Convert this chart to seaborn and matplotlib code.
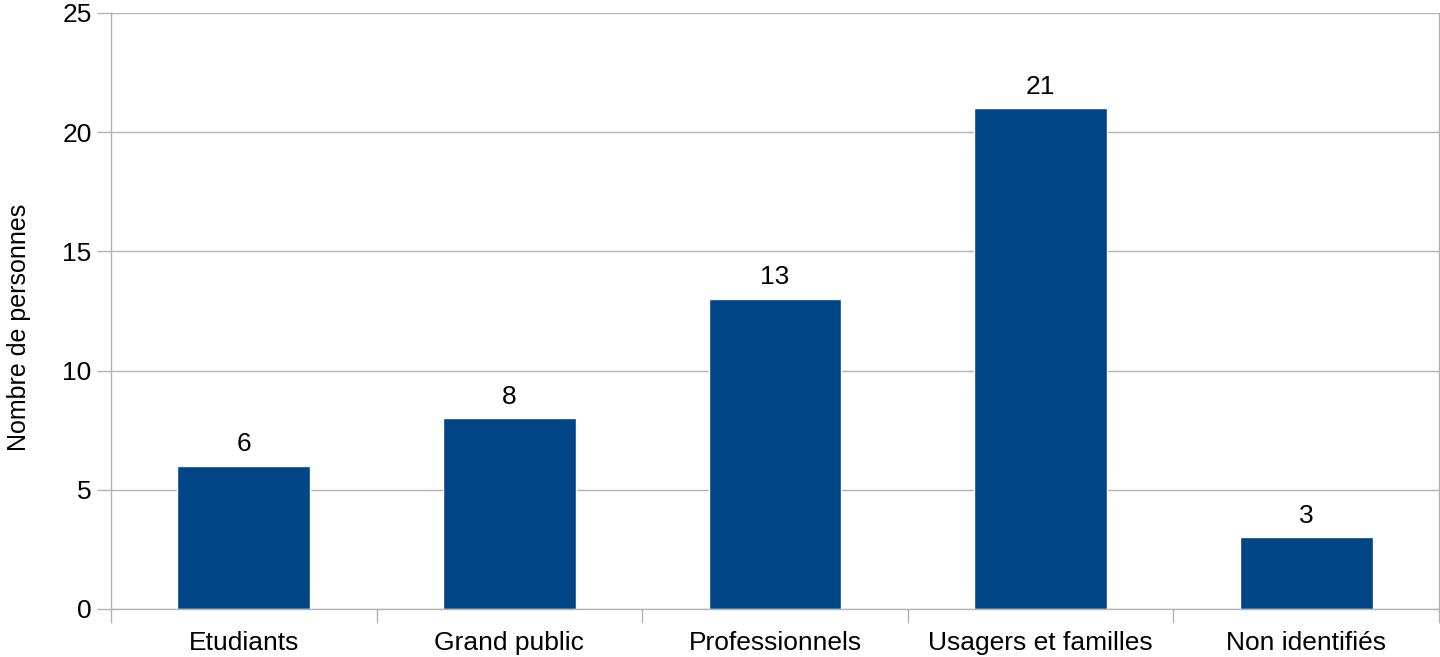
import matplotlib
matplotlib.use("Agg")
import matplotlib.pyplot as plt
import seaborn as sns
import pandas as pd

categories = ["Etudiants", "Grand public", "Professionnels", "Usagers et familles", "Non identifiés"]
values = [6, 8, 13, 21, 3]
yticks = [0, 5, 10, 15, 20, 25]

df = pd.DataFrame({"cat": categories, "val": values})

sns.set_style("white")
plt.rcParams["font.family"] = ["Liberation Sans", "DejaVu Sans"]

fig = plt.figure(figsize=(14.4, 6.57), dpi=100)
ax = fig.add_axes([111 / 1440, 1 - 609 / 657, (1439 - 111) / 1440, (609 - 13) / 657])

sns.barplot(data=df, x="cat", y="val", color="#004586", width=0.5, saturation=1, ax=ax)

for i, v in enumerate(values):
    ax.annotate(str(v), (i, v), xytext=(0, 7), textcoords="offset points",
                ha="center", va="bottom", fontsize=19, color="black")

ax.set_ylim(0, 25)
ax.set_xlim(-0.5, len(categories) - 0.5)
ax.set_yticks(yticks)
ax.set_yticklabels([str(t) for t in yticks], fontsize=19, color="black")
ax.grid(axis="y", color="#b3b3b3", linewidth=1)
ax.set_axisbelow(True)

# x ticks sit between categories, labels in the middle
ax.set_xticks([i - 0.5 for i in range(len(categories) + 1)])
ax.set_xticklabels([])
ax.set_xticks(range(len(categories)), minor=True)
ax.set_xticklabels(categories, minor=True, fontsize=19, color="black")
ax.tick_params(axis="x", which="major", length=10, color="#b3b3b3", width=1, direction="out", bottom=True)
ax.tick_params(axis="x", which="minor", length=0, pad=16)
ax.tick_params(axis="y", length=10, color="#b3b3b3", width=1, direction="out", left=True, pad=4)

for side in ["left", "bottom", "right"]:
    ax.spines[side].set_color("#b3b3b3")
    ax.spines[side].set_linewidth(1)
ax.spines["top"].set_visible(False)

ax.set_xlabel("")
ax.set_ylabel("Nombre de personnes", fontsize=18, color="black")
ax.yaxis.set_label_coords(-0.0605, 0.473)

fig.savefig("out.png", dpi=100)
